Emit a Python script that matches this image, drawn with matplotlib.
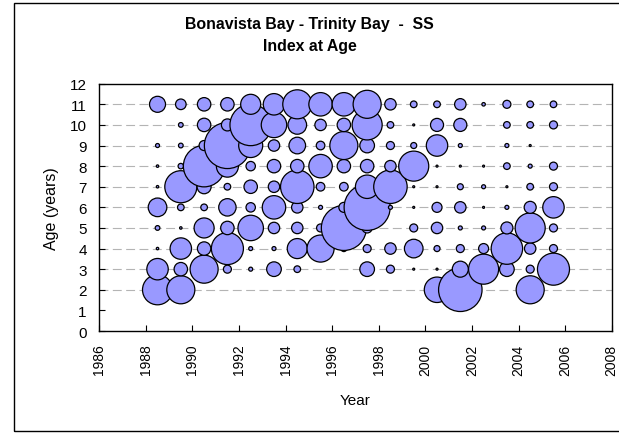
import numpy as np
import matplotlib
matplotlib.use("Agg")
import matplotlib.pyplot as plt
from matplotlib.patches import Rectangle

plt.rcParams['font.family'] = ['Liberation Sans', 'DejaVu Sans']

# survey years (bubbles sit at mid-year) and index at age, ages 1..11
years = np.arange(1988, 2006)
ages = np.arange(1, 12)

age1 = [0, 0, 0, 0, 0, 0, 0, 0, 0, 0, 0, 0, 0, 0, 0, 0, 0, 0]
age2 = [45, 39.2, 0, 0, 0, 0, 0, 0, 0, 0, 0, 0, 32.3, 94.2, 0, 0, 39.2, 0]
age3 = [22.9, 9.0, 39.2, 3.2, 0.8, 10.7, 2.2, 0, 0, 10.7, 3.2, 0.2, 0.2, 12.8, 45, 10.7, 3.2, 51.2]
age4 = [0.3, 22.9, 9.0, 51.2, 0.8, 0.8, 20, 36.5, 1.8, 3.2, 6.5, 17.3, 1.8, 3.2, 5.0, 49.3, 6.5, 3.2]
age5 = [1.1, 0.3, 20, 9.0, 32.3, 6.5, 6.5, 3.2, 101, 5.0, 0, 3.2, 6.5, 0.8, 0.8, 7.2, 45, 3.2]
age6 = [17.3, 2.2, 2.2, 15.1, 4.4, 27.4, 6.5, 0.8, 5.0, 105.8, 0.8, 0.2, 5.0, 6.5, 0.2, 0.8, 7.2, 22.9]
age7 = [0.3, 51.2, 9.8, 2.2, 9.0, 6.5, 55.8, 3.7, 3.7, 27.4, 55.8, 0.2, 0.2, 1.8, 0.8, 0.2, 2.2, 3.2]
age8 = [0.3, 1.5, 85.7, 24.2, 4.4, 9.0, 9.0, 27.4, 9.0, 9.0, 6.5, 45, 0.2, 0.2, 0.2, 2.2, 0.8, 3.2]
age9 = [0.8, 1.1, 5.0, 105.8, 28.8, 6.5, 13.8, 3.7, 39.2, 10.7, 3.2, 1.8, 22.9, 0.8, 0, 0.8, 0.2, 0]
age10 = [0, 1.1, 9.0, 7.2, 85.7, 32.3, 17.3, 6.5, 9.0, 45, 2.2, 0.2, 8.5, 8.5, 0, 2.2, 2.2, 3.2]
age11 = [12.8, 5.6, 9.0, 9.0, 20, 22.9, 42, 27.4, 27.4, 39.2, 6.5, 2.2, 2.2, 6.5, 0.6, 3.2, 2.2, 2.2]

index = [age1, age2, age3, age4, age5, age6, age7, age8, age9, age10, age11]

fig = plt.figure(figsize=(6.19, 4.35), dpi=100)
ax = fig.add_axes([99.3 / 619, 1 - 332 / 435, (611.7 - 99.3) / 619, (332 - 84.7) / 435])

# outer chart border
fig.patches.append(Rectangle((14 / 619, 3 / 435), 1.0, 1 - 7 / 435, transform=fig.transFigure,
                             fill=False, edgecolor='black', linewidth=1.0, clip_on=False))

for a in ages[1:]:
    ax.axhline(a, color='#b4b4b4', linewidth=0.8, linestyle=(0, (8, 4)), zorder=0)

for a, vals in zip(ages, index):
    vals = np.array(vals, dtype=float)
    keep = vals > 0
    ax.scatter(years[keep] + 0.5, np.full(keep.sum(), a), s=vals[keep] * 10.4,
               color='#9999ff', edgecolors='black', linewidths=0.9, zorder=3, clip_on=False)

ax.set_xlim(1986, 2008)
ax.set_ylim(0, 12)
ax.set_xticks(np.arange(1986, 2009, 2))
ax.set_yticks(np.arange(0, 13, 1))
ax.tick_params(direction='in', length=4, width=0.8, pad=9)
ax.tick_params(axis='x', labelsize=10)
ax.tick_params(axis='y', labelsize=11)
plt.setp(ax.get_xticklabels(), rotation=90)
for sp in ax.spines.values():
    sp.set_linewidth(1.0)

ax.set_xlabel("Year", fontsize=11, labelpad=13)
ax.set_ylabel("Age (years)", fontsize=11.5, labelpad=8)

fig.text(0.5, 1 - 25 / 435, "Bonavista Bay - Trinity Bay  -  SS", ha='center', va='center',
         fontsize=11.4, fontweight='bold')
fig.text(0.5, 1 - 47 / 435, "Index at Age", ha='center', va='center',
         fontsize=11.4, fontweight='bold')

fig.savefig("out.png", dpi=100)
